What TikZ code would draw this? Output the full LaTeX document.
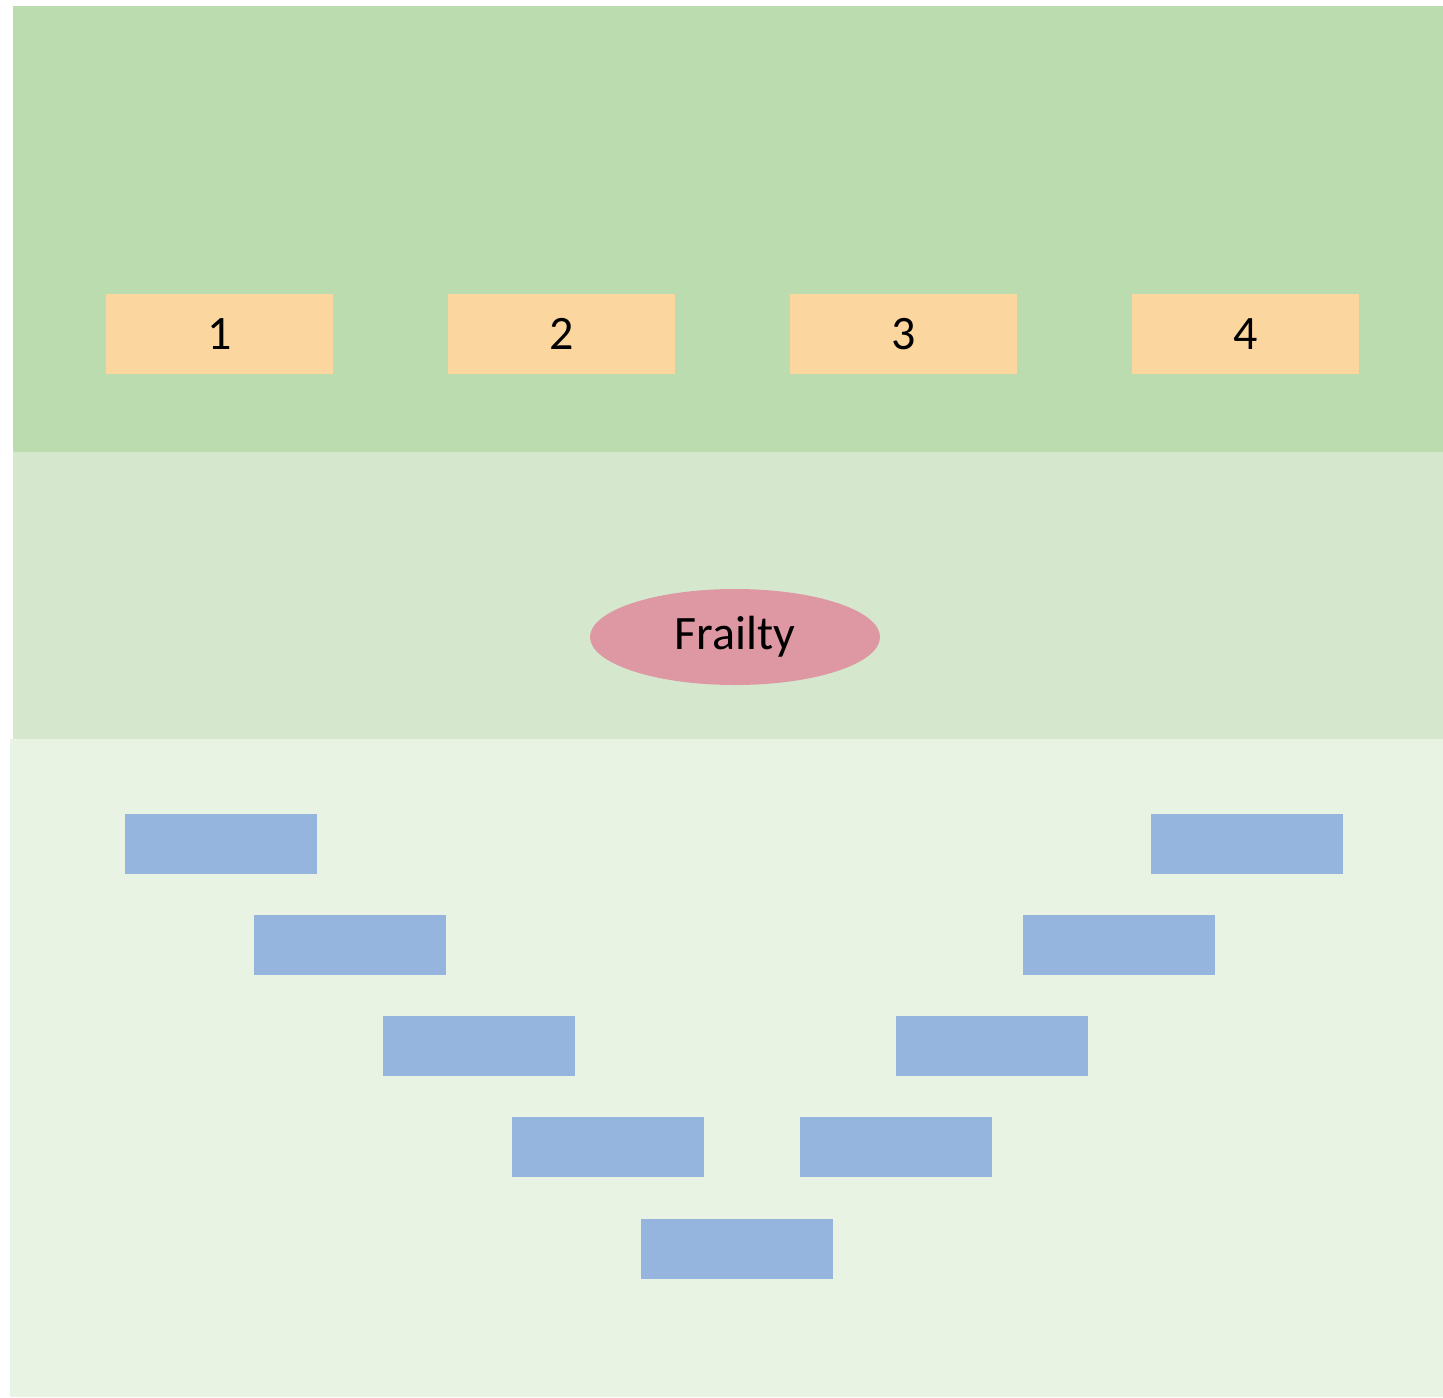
\documentclass[tikz,border=0pt]{standalone}
\usepackage{fontspec}
\setmainfont{Carlito}
\usepackage{tikz}
\usetikzlibrary{shapes.geometric}
\definecolor{bandtop}{HTML}{BBDCAE}
\definecolor{bandmid}{HTML}{D5E8CE}
\definecolor{bandlow}{HTML}{E8F3E4}
\definecolor{waveorange}{HTML}{FCD69F}
\definecolor{frailpink}{HTML}{DE98A3}
\definecolor{itemblue}{HTML}{95B5DE}

\begin{document}
\begin{tikzpicture}[x=0.5pt,y=-0.5pt,
	wavebox/.style={fill=waveorange,minimum width=113.5pt,minimum height=40pt,inner sep=0pt,font=\fontsize{24}{28}\selectfont},
	itembar/.style={fill=itemblue,minimum width=96pt,minimum height=30pt,inner sep=0pt}]
	\useasboundingbox (0,0) rectangle (1443,1397);
	
	% Background bands
\fill[bandtop] (13,6) rectangle (1443,452);
\fill[bandmid] (13,452) rectangle (1443,739);
\fill[bandlow] (10,739) rectangle (1443,1397);

	% Top row - numbered boxes
\foreach \i in {1,2,...,4} {
	\node[wavebox] (wave\i) at ({219.5+342*(\i-1)},334) {\i};
}

\node[ellipse,fill=frailpink,minimum width=145pt,minimum height=48pt,inner sep=0pt,font=\fontsize{24}{28}\selectfont] (frailty) at (735,637) {Frailty};

	% Lower part - bars in a V
\foreach \x/\y [count=\k] in {221/844,350/945,479/1046,608/1147} {
	\node[itembar] (left\k) at (\x,\y) {};
}
\foreach \x/\y [count=\k] in {1247/844,1119/945,992/1046,896/1147} {
	\node[itembar] (right\k) at (\x,\y) {};
}
\node[itembar] (bottom) at (737,1249) {};
\end{tikzpicture}
\end{document}
